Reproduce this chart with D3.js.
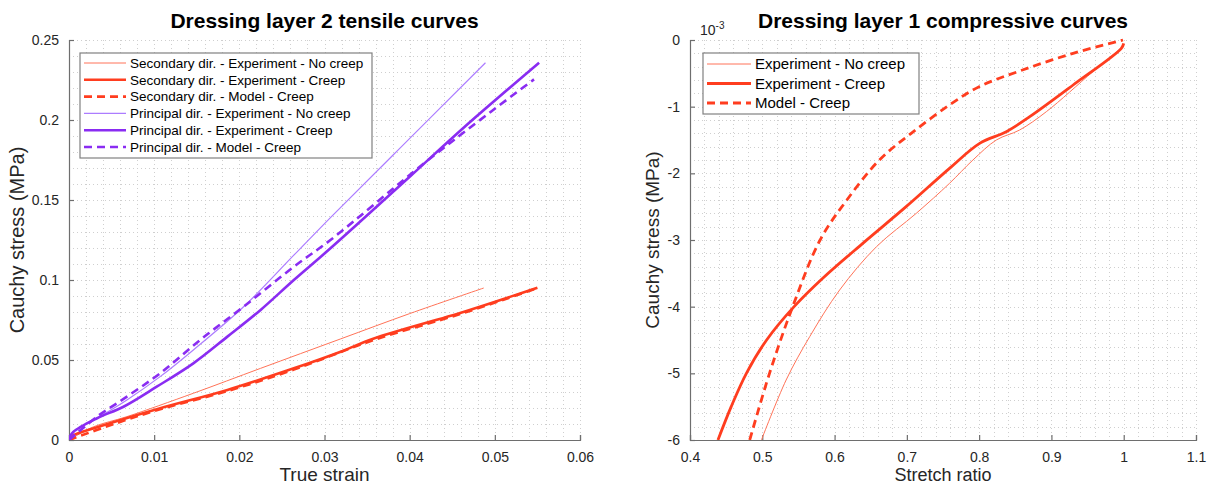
<!DOCTYPE html>
<meta charset="utf-8">
<style>
body { margin: 0; background: #fff; }
text { font-family: "Liberation Sans", Arial, sans-serif; }
</style>
<svg id="chart" width="1213" height="485"></svg>
<script src="https://cdn.jsdelivr.net/npm/d3@7/dist/d3.min.js"></script>
<script>

// ---- left panel: tensile curves (strain, stress MPa) ----
var secNoCreepX = [0, 0.0029, 0.0068, 0.0146, 0.0225, 0.0319, 0.0400, 0.0487];
var secNoCreepY = [0, 0.0083, 0.0146, 0.0292, 0.0448, 0.0632, 0.0790, 0.0950];
var secCreepX = [0, 0.0005, 0.0048, 0.0107, 0.0186, 0.0264, 0.0319, 0.0358, 0.0464, 0.0550];
var secCreepY = [0.001, 0.003, 0.0104, 0.0198, 0.0313, 0.0448, 0.0552, 0.0635, 0.0802, 0.0952];
var secModelX = [0, 0.0050, 0.0107, 0.0186, 0.0264, 0.0358, 0.0464, 0.0550];
var secModelY = [0, 0.0095, 0.0192, 0.0306, 0.0440, 0.0625, 0.0795, 0.0950];
var prinNoCreepX = [0, 0.0005, 0.0033, 0.0068, 0.0107, 0.0146, 0.0205, 0.0264, 0.0307, 0.0386, 0.0489];
var prinNoCreepY = [0.001, 0.005, 0.0136, 0.0250, 0.0396, 0.0563, 0.0833, 0.1155, 0.1390, 0.1810, 0.2358];
var prinCreepX = [0, 0.0005, 0.0033, 0.0064, 0.0103, 0.0146, 0.0186, 0.0225, 0.0264, 0.0307, 0.0401, 0.0464, 0.0552];
var prinCreepY = [0.001, 0.005, 0.0136, 0.0208, 0.0333, 0.0479, 0.0646, 0.0813, 0.1000, 0.1198, 0.1650, 0.1955, 0.2358];
var prinModelX = [0, 0.0033, 0.0068, 0.0107, 0.0154, 0.0205, 0.0264, 0.0307, 0.0417, 0.0495, 0.0546];
var prinModelY = [0, 0.0146, 0.0271, 0.0417, 0.0625, 0.0833, 0.1083, 0.1250, 0.1730, 0.2050, 0.2254];

var tensXTicks = [0, 0.01, 0.02, 0.03, 0.04, 0.05, 0.06];
var tensYTicks = [0, 0.05, 0.1, 0.15, 0.2, 0.25];
var tensLegend = ["Secondary dir. - Experiment - No creep", "Secondary dir. - Experiment - Creep",
  "Secondary dir. - Model - Creep", "Principal dir. - Experiment - No creep",
  "Principal dir. - Experiment - Creep", "Principal dir. - Model - Creep"];

// ---- right panel: compressive curves (stretch ratio, stress 1e-3 MPa) ----
var compNoCreepX = [0.4988, 0.533, 0.5656, 0.607, 0.658, 0.713, 0.759, 0.7914, 0.8238, 0.856, 0.893, 0.9574, 0.999];
var compNoCreepY = [-6.0, -5.1, -4.45, -3.75, -3.1, -2.6, -2.15, -1.8, -1.5, -1.35, -1.075, -0.475, -0.1];
var compCreepX = [0.4387, 0.457, 0.478, 0.506, 0.544, 0.584, 0.639, 0.699, 0.759, 0.8007, 0.8376, 0.87, 0.93, 0.9967, 1.0];
var compCreepY = [-6.0, -5.5, -5.0, -4.5, -4.0, -3.57, -3.05, -2.5, -1.925, -1.55, -1.375, -1.15, -0.675, -0.125, -0.05];
var compModelX = [0.4826, 0.510, 0.542, 0.580, 0.617, 0.662, 0.706, 0.759, 0.800, 0.860, 0.930, 0.999];
var compModelY = [-6.0, -5.0, -4.0, -3.0, -2.4, -1.8, -1.4, -0.975, -0.7, -0.45, -0.2, 0];

var compXTicks = [0.4, 0.5, 0.6, 0.7, 0.8, 0.9, 1, 1.1];
var compYTicks = [-6, -5, -4, -3, -2, -1, 0];
var compLegend = ["Experiment - No creep", "Experiment - Creep", "Model - Creep"];

var red = "#ff3d1f";
var purple = "#8a2cf2";
var redLight = "#ff7358";
var purpleLight = "#ac7cff";

var svg = d3.select("#chart");

function zip(xs, ys) {
  return xs.map(function(x, i) { return [x, ys[i]]; });
}

function panel(o) {
  var x = d3.scaleLinear().domain(o.xDomain).range([o.left, o.right]);
  var y = d3.scaleLinear().domain(o.yDomain).range([o.bottom, o.top]);
  var g = svg.append("g");

  // dotted grid (major + minor)
  var grid = g.append("g").attr("stroke", "#cfcfcf").attr("stroke-width", 1)
    .attr("stroke-dasharray", "1,3");
  d3.range(o.xDomain[0], o.xDomain[1] + o.xMinor / 2, o.xMinor).forEach(function(v) {
    grid.append("line").attr("x1", Math.round(x(v)) + 0.5).attr("x2", Math.round(x(v)) + 0.5)
      .attr("y1", o.top).attr("y2", o.bottom);
  });
  d3.range(o.yDomain[0], o.yDomain[1] + o.yMinor / 2, o.yMinor).forEach(function(v) {
    grid.append("line").attr("y1", Math.round(y(v)) + 0.5).attr("y2", Math.round(y(v)) + 0.5)
      .attr("x1", o.left).attr("x2", o.right);
  });

  // axes, ticks inward
  var xAxis = d3.axisBottom(x).tickValues(o.xTicks).tickSize(-5).tickPadding(12)
    .tickFormat(function(d) { return String(+d.toFixed(4)); });
  var yAxis = d3.axisLeft(y).tickValues(o.yTicks).tickSize(-5).tickPadding(10)
    .tickFormat(function(d) { return String(+d.toFixed(4)); });
  g.append("g").attr("transform", "translate(0," + o.bottom + ")").call(xAxis);
  g.append("g").attr("transform", "translate(" + o.left + ",0)").call(yAxis);
  g.selectAll(".domain, .tick line").attr("stroke", "#6e6e6e").attr("stroke-width", 1.2);
  g.selectAll(".tick text").attr("fill", "#262626").style("font-size", "14px")
    .style("font-family", "'Liberation Sans', Arial, sans-serif");

  var clipId = "clip" + o.left;
  svg.append("clipPath").attr("id", clipId).append("rect")
    .attr("x", o.left).attr("y", o.top - 3).attr("width", o.right - o.left).attr("height", o.bottom - o.top + 3);

  var line = d3.line().x(function(d) { return x(d[0]); }).y(function(d) { return y(d[1]); })
    .curve(d3.curveCatmullRom.alpha(0.5));
  var lines = g.append("g").attr("clip-path", "url(#" + clipId + ")");
  o.series.forEach(function(s) {
    lines.append("path").datum(s.data).attr("d", line).attr("fill", "none")
      .attr("stroke", s.color).attr("stroke-width", s.width)
      .attr("stroke-dasharray", s.dash || null).attr("stroke-linejoin", "round");
  });

  // title and labels
  g.append("text").attr("x", (o.left + o.right) / 2).attr("y", 28).attr("text-anchor", "middle")
    .style("font-size", "21px").style("font-weight", "bold").attr("fill", "#000").text(o.title);
  g.append("text").attr("x", (o.left + o.right) / 2).attr("y", 481).attr("text-anchor", "middle")
    .style("font-size", o.xlabelSize).attr("fill", "#262626").text(o.xlabel);
  g.append("text").attr("transform", "translate(" + o.ylabelX + "," + ((o.top + o.bottom) / 2) + ") rotate(-90)")
    .attr("text-anchor", "middle").style("font-size", o.ylabelSize).attr("fill", "#262626").text("Cauchy stress (MPa)");

  // legend
  var lg = g.append("g");
  lg.append("rect").attr("x", o.legend.x).attr("y", o.legend.y).attr("width", o.legend.w).attr("height", o.legend.h)
    .attr("fill", "#fff").attr("stroke", "#808080").attr("stroke-width", 1.2);
  o.series.forEach(function(s, i) {
    var cy = o.legend.y + o.legend.first + i * o.legend.step;
    lg.append("line").attr("x1", o.legend.x + 4).attr("x2", o.legend.x + 4 + o.legend.sample)
      .attr("y1", cy).attr("y2", cy).attr("stroke", s.color).attr("stroke-width", s.width)
      .attr("stroke-dasharray", s.dash || null);
    lg.append("text").attr("x", o.legend.x + 8 + o.legend.sample).attr("y", cy).attr("dy", "0.35em")
      .style("font-size", o.legend.font).attr("fill", "#000").text(o.labels[i]);
  });
  return { x: x, y: y, g: g };
}

panel({
  left: 69, right: 580, top: 40, bottom: 440,
  xDomain: [0, 0.06], yDomain: [0, 0.25], xMinor: 0.002, yMinor: 0.01,
  xTicks: tensXTicks, yTicks: tensYTicks,
  title: "Dressing layer 2 tensile curves", xlabel: "True strain", xlabelSize: "19px",
  ylabelX: 24, ylabelSize: "20px",
  labels: tensLegend,
  legend: { x: 80, y: 53, w: 292, h: 105, first: 10, step: 16.8, sample: 42, font: "13.5px" },
  series: [
    { data: zip(secNoCreepX, secNoCreepY), color: redLight, width: 1 },
    { data: zip(secCreepX, secCreepY), color: red, width: 2.6 },
    { data: zip(secModelX, secModelY), color: red, width: 2.6, dash: "8,5" },
    { data: zip(prinNoCreepX, prinNoCreepY), color: purpleLight, width: 1.2 },
    { data: zip(prinCreepX, prinCreepY), color: purple, width: 2.6 },
    { data: zip(prinModelX, prinModelY), color: purple, width: 2.6, dash: "8,5" }
  ]
});

var right = panel({
  left: 690, right: 1196, top: 40, bottom: 440,
  xDomain: [0.4, 1.1], yDomain: [-6, 0], xMinor: 0.02, yMinor: 0.2,
  xTicks: compXTicks, yTicks: compYTicks,
  title: "Dressing layer 1 compressive curves", xlabel: "Stretch ratio", xlabelSize: "18px",
  ylabelX: 659, ylabelSize: "19px",
  labels: compLegend,
  legend: { x: 703, y: 53, w: 216, h: 61, first: 11, step: 19.5, sample: 44, font: "15px" },
  series: [
    { data: zip(compNoCreepX, compNoCreepY), color: redLight, width: 1 },
    { data: zip(compCreepX, compCreepY), color: red, width: 2.8 },
    { data: zip(compModelX, compModelY), color: red, width: 2.8, dash: "8,5" }
  ]
});

// exponent marker
var ex = right.g.append("text").attr("x", 700).attr("y", 35).attr("fill", "#262626").style("font-size", "14px");
ex.append("tspan").text("10");
ex.append("tspan").attr("dy", -6).style("font-size", "10px").text("-3");

</script>
</html>
